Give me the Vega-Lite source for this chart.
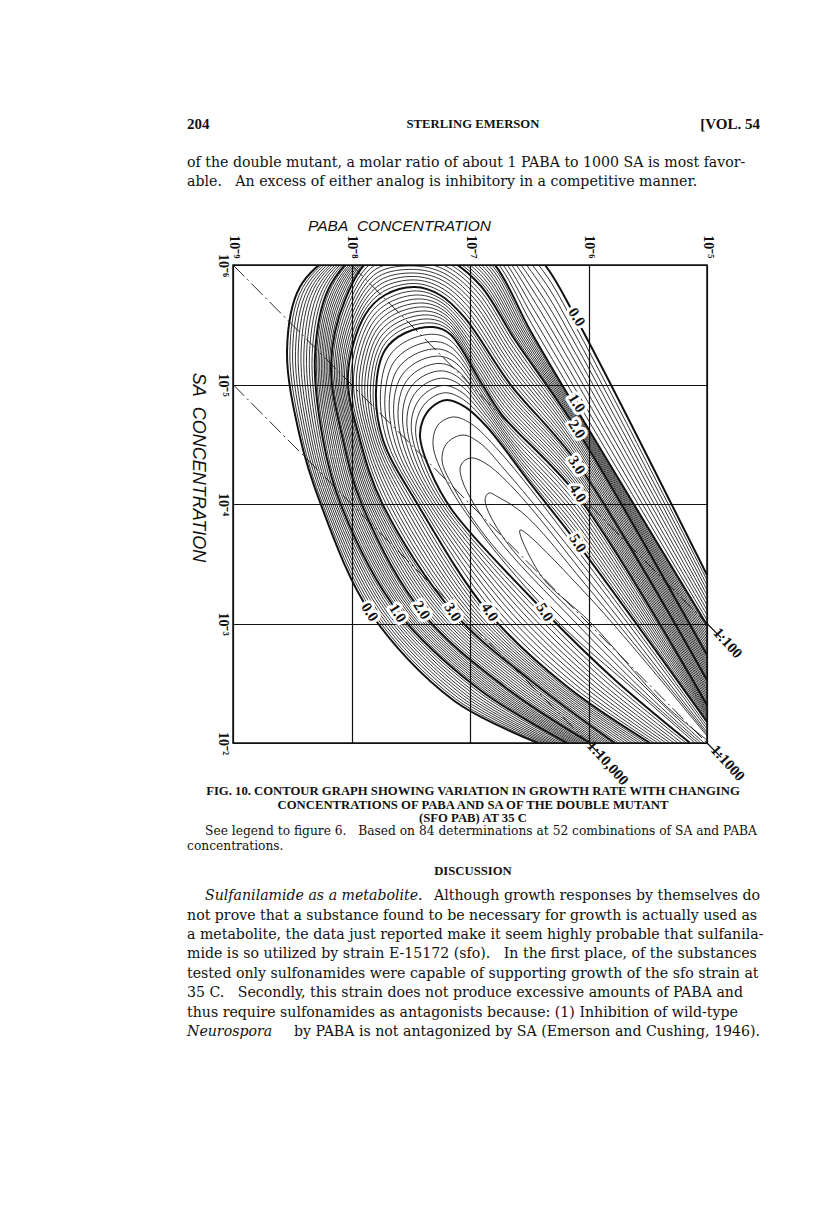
{"$schema":"https://vega.github.io/schema/vega-lite/v6.json","width":474,"height":478,"autosize":{"type":"none"},"padding":{"left":233,"top":265,"right":109,"bottom":475},"background":"white","config":{"view":{"stroke":"#111","strokeWidth":1.5}},
"datasets":{"contours":[
{"lv":0,"paba":-5,"sa":-3.406},{"lv":0,"paba":-6.097,"sa":-5.54},{"lv":0,"paba":-6.367,"sa":-6},{"lv":0,"paba":-6.705,"sa":-6.335},{"lv":0,"paba":-7,"sa":-6.502},{"lv":0,"paba":-7.38,"sa":-6.586},{"lv":0,"paba":-8.055,"sa":-6.167},{"lv":0,"paba":-8.435,"sa":-5.816},{"lv":0,"paba":-8.544,"sa":-5.289},{"lv":0,"paba":-8.435,"sa":-4.561},{"lv":0,"paba":-8.257,"sa":-3.992},{"lv":0,"paba":-7.844,"sa":-3.096},{"lv":0,"paba":-7.143,"sa":-2.36},{"lv":0,"paba":-6.426,"sa":-2},
{"lv":0.1,"paba":-5,"sa":-3.364},{"lv":0.1,"paba":-6.097,"sa":-5.465},{"lv":0.1,"paba":-6.38,"sa":-5.946},{"lv":0.1,"paba":-6.713,"sa":-6.302},{"lv":0.1,"paba":-7.008,"sa":-6.477},{"lv":0.1,"paba":-7.384,"sa":-6.569},{"lv":0.1,"paba":-8.047,"sa":-6.159},{"lv":0.1,"paba":-8.411,"sa":-5.813},{"lv":0.1,"paba":-8.52,"sa":-5.285},{"lv":0.1,"paba":-8.416,"sa":-4.558},{"lv":0.1,"paba":-8.24,"sa":-3.992},{"lv":0.1,"paba":-7.82,"sa":-3.096},{"lv":0.1,"paba":-7.12,"sa":-2.368},{"lv":0.1,"paba":-6.402,"sa":-2},
{"lv":0.2,"paba":-5,"sa":-3.322},{"lv":0.2,"paba":-6.097,"sa":-5.389},{"lv":0.2,"paba":-6.392,"sa":-5.891},{"lv":0.2,"paba":-6.722,"sa":-6.268},{"lv":0.2,"paba":-7.017,"sa":-6.452},{"lv":0.2,"paba":-7.388,"sa":-6.552},{"lv":0.2,"paba":-8.038,"sa":-6.15},{"lv":0.2,"paba":-8.388,"sa":-5.811},{"lv":0.2,"paba":-8.497,"sa":-5.281},{"lv":0.2,"paba":-8.396,"sa":-4.556},{"lv":0.2,"paba":-8.223,"sa":-3.992},{"lv":0.2,"paba":-7.797,"sa":-3.096},{"lv":0.2,"paba":-7.098,"sa":-2.377},{"lv":0.2,"paba":-6.377,"sa":-2},
{"lv":0.3,"paba":-5,"sa":-3.281},{"lv":0.3,"paba":-6.097,"sa":-5.314},{"lv":0.3,"paba":-6.405,"sa":-5.837},{"lv":0.3,"paba":-6.73,"sa":-6.235},{"lv":0.3,"paba":-7.025,"sa":-6.427},{"lv":0.3,"paba":-7.393,"sa":-6.536},{"lv":0.3,"paba":-8.03,"sa":-6.142},{"lv":0.3,"paba":-8.364,"sa":-5.808},{"lv":0.3,"paba":-8.473,"sa":-5.276},{"lv":0.3,"paba":-8.377,"sa":-4.554},{"lv":0.3,"paba":-8.207,"sa":-3.992},{"lv":0.3,"paba":-7.773,"sa":-3.096},{"lv":0.3,"paba":-7.075,"sa":-2.385},{"lv":0.3,"paba":-6.353,"sa":-2},
{"lv":0.4,"paba":-5,"sa":-3.239},{"lv":0.4,"paba":-6.097,"sa":-5.239},{"lv":0.4,"paba":-6.418,"sa":-5.782},{"lv":0.4,"paba":-6.739,"sa":-6.201},{"lv":0.4,"paba":-7.034,"sa":-6.402},{"lv":0.4,"paba":-7.397,"sa":-6.519},{"lv":0.4,"paba":-8.021,"sa":-6.134},{"lv":0.4,"paba":-8.34,"sa":-5.806},{"lv":0.4,"paba":-8.45,"sa":-5.272},{"lv":0.4,"paba":-8.357,"sa":-4.551},{"lv":0.4,"paba":-8.19,"sa":-3.992},{"lv":0.4,"paba":-7.75,"sa":-3.096},{"lv":0.4,"paba":-7.052,"sa":-2.394},{"lv":0.4,"paba":-6.328,"sa":-2},
{"lv":0.5,"paba":-5,"sa":-3.197},{"lv":0.5,"paba":-6.097,"sa":-5.164},{"lv":0.5,"paba":-6.43,"sa":-5.728},{"lv":0.5,"paba":-6.747,"sa":-6.168},{"lv":0.5,"paba":-7.042,"sa":-6.377},{"lv":0.5,"paba":-7.401,"sa":-6.502},{"lv":0.5,"paba":-8.013,"sa":-6.126},{"lv":0.5,"paba":-8.317,"sa":-5.804},{"lv":0.5,"paba":-8.426,"sa":-5.268},{"lv":0.5,"paba":-8.338,"sa":-4.549},{"lv":0.5,"paba":-8.173,"sa":-3.992},{"lv":0.5,"paba":-7.726,"sa":-3.096},{"lv":0.5,"paba":-7.03,"sa":-2.402},{"lv":0.5,"paba":-6.304,"sa":-2},
{"lv":0.6,"paba":-5,"sa":-3.155},{"lv":0.6,"paba":-6.097,"sa":-5.088},{"lv":0.6,"paba":-6.443,"sa":-5.674},{"lv":0.6,"paba":-6.755,"sa":-6.134},{"lv":0.6,"paba":-7.05,"sa":-6.351},{"lv":0.6,"paba":-7.405,"sa":-6.485},{"lv":0.6,"paba":-8.004,"sa":-6.117},{"lv":0.6,"paba":-8.293,"sa":-5.801},{"lv":0.6,"paba":-8.402,"sa":-5.264},{"lv":0.6,"paba":-8.318,"sa":-4.546},{"lv":0.6,"paba":-8.156,"sa":-3.992},{"lv":0.6,"paba":-7.702,"sa":-3.096},{"lv":0.6,"paba":-7.007,"sa":-2.41},{"lv":0.6,"paba":-6.279,"sa":-2},
{"lv":0.7,"paba":-5,"sa":-3.113},{"lv":0.7,"paba":-6.097,"sa":-5.013},{"lv":0.7,"paba":-6.456,"sa":-5.619},{"lv":0.7,"paba":-6.764,"sa":-6.101},{"lv":0.7,"paba":-7.059,"sa":-6.326},{"lv":0.7,"paba":-7.409,"sa":-6.468},{"lv":0.7,"paba":-7.996,"sa":-6.109},{"lv":0.7,"paba":-8.269,"sa":-5.799},{"lv":0.7,"paba":-8.379,"sa":-5.26},{"lv":0.7,"paba":-8.299,"sa":-4.544},{"lv":0.7,"paba":-8.139,"sa":-3.992},{"lv":0.7,"paba":-7.679,"sa":-3.096},{"lv":0.7,"paba":-6.984,"sa":-2.419},{"lv":0.7,"paba":-6.255,"sa":-2},
{"lv":0.8,"paba":-5,"sa":-3.072},{"lv":0.8,"paba":-6.097,"sa":-4.938},{"lv":0.8,"paba":-6.469,"sa":-5.565},{"lv":0.8,"paba":-6.772,"sa":-6.067},{"lv":0.8,"paba":-7.067,"sa":-6.301},{"lv":0.8,"paba":-7.414,"sa":-6.452},{"lv":0.8,"paba":-7.987,"sa":-6.101},{"lv":0.8,"paba":-8.245,"sa":-5.796},{"lv":0.8,"paba":-8.355,"sa":-5.255},{"lv":0.8,"paba":-8.279,"sa":-4.541},{"lv":0.8,"paba":-8.123,"sa":-3.992},{"lv":0.8,"paba":-7.655,"sa":-3.096},{"lv":0.8,"paba":-6.962,"sa":-2.427},{"lv":0.8,"paba":-6.23,"sa":-2},
{"lv":0.9,"paba":-5,"sa":-3.03},{"lv":0.9,"paba":-6.097,"sa":-4.862},{"lv":0.9,"paba":-6.481,"sa":-5.51},{"lv":0.9,"paba":-6.781,"sa":-6.034},{"lv":0.9,"paba":-7.076,"sa":-6.276},{"lv":0.9,"paba":-7.418,"sa":-6.435},{"lv":0.9,"paba":-7.979,"sa":-6.092},{"lv":0.9,"paba":-8.222,"sa":-5.794},{"lv":0.9,"paba":-8.332,"sa":-5.251},{"lv":0.9,"paba":-8.26,"sa":-4.539},{"lv":0.9,"paba":-8.106,"sa":-3.992},{"lv":0.9,"paba":-7.632,"sa":-3.096},{"lv":0.9,"paba":-6.939,"sa":-2.436},{"lv":0.9,"paba":-6.206,"sa":-2},
{"lv":1,"paba":-5,"sa":-2.988},{"lv":1,"paba":-6.097,"sa":-4.787},{"lv":1,"paba":-6.494,"sa":-5.456},{"lv":1,"paba":-6.789,"sa":-6},{"lv":1,"paba":-7.084,"sa":-6.251},{"lv":1,"paba":-7.422,"sa":-6.418},{"lv":1,"paba":-7.97,"sa":-6.084},{"lv":1,"paba":-8.198,"sa":-5.791},{"lv":1,"paba":-8.308,"sa":-5.247},{"lv":1,"paba":-8.24,"sa":-4.536},{"lv":1,"paba":-8.089,"sa":-3.992},{"lv":1,"paba":-7.608,"sa":-3.096},{"lv":1,"paba":-6.916,"sa":-2.444},{"lv":1,"paba":-6.181,"sa":-2},
{"lv":1.1,"paba":-5,"sa":-2.963},{"lv":1.1,"paba":-6.097,"sa":-4.77},{"lv":1.1,"paba":-6.507,"sa":-5.448},{"lv":1.1,"paba":-6.802,"sa":-5.983},{"lv":1.1,"paba":-7.097,"sa":-6.232},{"lv":1.1,"paba":-7.429,"sa":-6.387},{"lv":1.1,"paba":-7.956,"sa":-6.082},{"lv":1.1,"paba":-8.184,"sa":-5.783},{"lv":1.1,"paba":-8.295,"sa":-5.239},{"lv":1.1,"paba":-8.223,"sa":-4.536},{"lv":1.1,"paba":-8.071,"sa":-3.992},{"lv":1.1,"paba":-7.588,"sa":-3.096},{"lv":1.1,"paba":-6.895,"sa":-2.447},{"lv":1.1,"paba":-6.162,"sa":-2},
{"lv":1.2,"paba":-5,"sa":-2.938},{"lv":1.2,"paba":-6.097,"sa":-4.753},{"lv":1.2,"paba":-6.519,"sa":-5.439},{"lv":1.2,"paba":-6.814,"sa":-5.967},{"lv":1.2,"paba":-7.109,"sa":-6.213},{"lv":1.2,"paba":-7.435,"sa":-6.356},{"lv":1.2,"paba":-7.941,"sa":-6.079},{"lv":1.2,"paba":-8.169,"sa":-5.774},{"lv":1.2,"paba":-8.281,"sa":-5.23},{"lv":1.2,"paba":-8.206,"sa":-4.536},{"lv":1.2,"paba":-8.053,"sa":-3.992},{"lv":1.2,"paba":-7.567,"sa":-3.096},{"lv":1.2,"paba":-6.874,"sa":-2.449},{"lv":1.2,"paba":-6.142,"sa":-2},
{"lv":1.3,"paba":-5,"sa":-2.912},{"lv":1.3,"paba":-6.097,"sa":-4.737},{"lv":1.3,"paba":-6.532,"sa":-5.431},{"lv":1.3,"paba":-6.827,"sa":-5.95},{"lv":1.3,"paba":-7.122,"sa":-6.193},{"lv":1.3,"paba":-7.442,"sa":-6.325},{"lv":1.3,"paba":-7.927,"sa":-6.077},{"lv":1.3,"paba":-8.155,"sa":-5.766},{"lv":1.3,"paba":-8.268,"sa":-5.222},{"lv":1.3,"paba":-8.19,"sa":-4.536},{"lv":1.3,"paba":-8.036,"sa":-3.992},{"lv":1.3,"paba":-7.547,"sa":-3.096},{"lv":1.3,"paba":-6.853,"sa":-2.452},{"lv":1.3,"paba":-6.123,"sa":-2},
{"lv":1.4,"paba":-5,"sa":-2.887},{"lv":1.4,"paba":-6.097,"sa":-4.72},{"lv":1.4,"paba":-6.544,"sa":-5.422},{"lv":1.4,"paba":-6.84,"sa":-5.933},{"lv":1.4,"paba":-7.135,"sa":-6.174},{"lv":1.4,"paba":-7.449,"sa":-6.294},{"lv":1.4,"paba":-7.913,"sa":-6.074},{"lv":1.4,"paba":-8.141,"sa":-5.757},{"lv":1.4,"paba":-8.254,"sa":-5.213},{"lv":1.4,"paba":-8.173,"sa":-4.536},{"lv":1.4,"paba":-8.018,"sa":-3.992},{"lv":1.4,"paba":-7.527,"sa":-3.096},{"lv":1.4,"paba":-6.832,"sa":-2.454},{"lv":1.4,"paba":-6.103,"sa":-2},
{"lv":1.5,"paba":-5,"sa":-2.862},{"lv":1.5,"paba":-6.097,"sa":-4.703},{"lv":1.5,"paba":-6.557,"sa":-5.414},{"lv":1.5,"paba":-6.853,"sa":-5.917},{"lv":1.5,"paba":-7.148,"sa":-6.155},{"lv":1.5,"paba":-7.456,"sa":-6.264},{"lv":1.5,"paba":-7.899,"sa":-6.072},{"lv":1.5,"paba":-8.127,"sa":-5.749},{"lv":1.5,"paba":-8.241,"sa":-5.205},{"lv":1.5,"paba":-8.156,"sa":-4.536},{"lv":1.5,"paba":-8,"sa":-3.992},{"lv":1.5,"paba":-7.507,"sa":-3.096},{"lv":1.5,"paba":-6.811,"sa":-2.457},{"lv":1.5,"paba":-6.084,"sa":-2},
{"lv":1.6,"paba":-5,"sa":-2.837},{"lv":1.6,"paba":-6.097,"sa":-4.686},{"lv":1.6,"paba":-6.57,"sa":-5.406},{"lv":1.6,"paba":-6.865,"sa":-5.9},{"lv":1.6,"paba":-7.16,"sa":-6.136},{"lv":1.6,"paba":-7.462,"sa":-6.233},{"lv":1.6,"paba":-7.884,"sa":-6.07},{"lv":1.6,"paba":-8.112,"sa":-5.741},{"lv":1.6,"paba":-8.227,"sa":-5.197},{"lv":1.6,"paba":-8.139,"sa":-4.536},{"lv":1.6,"paba":-7.982,"sa":-3.992},{"lv":1.6,"paba":-7.486,"sa":-3.096},{"lv":1.6,"paba":-6.789,"sa":-2.459},{"lv":1.6,"paba":-6.065,"sa":-2},
{"lv":1.7,"paba":-5,"sa":-2.812},{"lv":1.7,"paba":-6.097,"sa":-4.669},{"lv":1.7,"paba":-6.582,"sa":-5.397},{"lv":1.7,"paba":-6.878,"sa":-5.883},{"lv":1.7,"paba":-7.173,"sa":-6.117},{"lv":1.7,"paba":-7.469,"sa":-6.202},{"lv":1.7,"paba":-7.87,"sa":-6.067},{"lv":1.7,"paba":-8.098,"sa":-5.732},{"lv":1.7,"paba":-8.214,"sa":-5.188},{"lv":1.7,"paba":-8.122,"sa":-4.536},{"lv":1.7,"paba":-7.964,"sa":-3.992},{"lv":1.7,"paba":-7.466,"sa":-3.096},{"lv":1.7,"paba":-6.768,"sa":-2.462},{"lv":1.7,"paba":-6.045,"sa":-2},
{"lv":1.8,"paba":-5,"sa":-2.786},{"lv":1.8,"paba":-6.097,"sa":-4.653},{"lv":1.8,"paba":-6.595,"sa":-5.389},{"lv":1.8,"paba":-6.891,"sa":-5.866},{"lv":1.8,"paba":-7.186,"sa":-6.097},{"lv":1.8,"paba":-7.476,"sa":-6.171},{"lv":1.8,"paba":-7.856,"sa":-6.064},{"lv":1.8,"paba":-8.084,"sa":-5.724},{"lv":1.8,"paba":-8.2,"sa":-5.18},{"lv":1.8,"paba":-8.106,"sa":-4.536},{"lv":1.8,"paba":-7.947,"sa":-3.992},{"lv":1.8,"paba":-7.446,"sa":-3.096},{"lv":1.8,"paba":-6.747,"sa":-2.464},{"lv":1.8,"paba":-6.026,"sa":-2},
{"lv":1.9,"paba":-5,"sa":-2.761},{"lv":1.9,"paba":-6.097,"sa":-4.636},{"lv":1.9,"paba":-6.607,"sa":-5.38},{"lv":1.9,"paba":-6.903,"sa":-5.85},{"lv":1.9,"paba":-7.198,"sa":-6.078},{"lv":1.9,"paba":-7.482,"sa":-6.14},{"lv":1.9,"paba":-7.841,"sa":-6.062},{"lv":1.9,"paba":-8.069,"sa":-5.715},{"lv":1.9,"paba":-8.187,"sa":-5.171},{"lv":1.9,"paba":-8.089,"sa":-4.536},{"lv":1.9,"paba":-7.929,"sa":-3.992},{"lv":1.9,"paba":-7.425,"sa":-3.096},{"lv":1.9,"paba":-6.726,"sa":-2.467},{"lv":1.9,"paba":-6.006,"sa":-2},
{"lv":2,"paba":-5,"sa":-2.736},{"lv":2,"paba":-6.097,"sa":-4.619},{"lv":2,"paba":-6.62,"sa":-5.372},{"lv":2,"paba":-6.916,"sa":-5.833},{"lv":2,"paba":-7.211,"sa":-6.059},{"lv":2,"paba":-7.489,"sa":-6.109},{"lv":2,"paba":-7.827,"sa":-6.059},{"lv":2,"paba":-8.055,"sa":-5.707},{"lv":2,"paba":-8.173,"sa":-5.163},{"lv":2,"paba":-8.072,"sa":-4.536},{"lv":2,"paba":-7.911,"sa":-3.992},{"lv":2,"paba":-7.405,"sa":-3.096},{"lv":2,"paba":-6.705,"sa":-2.469},{"lv":2,"paba":-5.987,"sa":-2},
{"lv":2.1,"paba":-5,"sa":-2.715},{"lv":2.1,"paba":-6.097,"sa":-4.591},{"lv":2.1,"paba":-6.624,"sa":-5.335},{"lv":2.1,"paba":-6.929,"sa":-5.805},{"lv":2.1,"paba":-7.215,"sa":-6.028},{"lv":2.1,"paba":-7.486,"sa":-6.08},{"lv":2.1,"paba":-7.816,"sa":-6.028},{"lv":2.1,"paba":-8.038,"sa":-5.694},{"lv":2.1,"paba":-8.159,"sa":-5.155},{"lv":2.1,"paba":-8.058,"sa":-4.536},{"lv":2.1,"paba":-7.893,"sa":-3.992},{"lv":2.1,"paba":-7.379,"sa":-3.096},{"lv":2.1,"paba":-6.684,"sa":-2.475},{"lv":2.1,"paba":-5.966,"sa":-2},
{"lv":2.2,"paba":-5,"sa":-2.694},{"lv":2.2,"paba":-6.097,"sa":-4.564},{"lv":2.2,"paba":-6.628,"sa":-5.298},{"lv":2.2,"paba":-6.941,"sa":-5.778},{"lv":2.2,"paba":-7.219,"sa":-5.997},{"lv":2.2,"paba":-7.484,"sa":-6.05},{"lv":2.2,"paba":-7.805,"sa":-5.997},{"lv":2.2,"paba":-8.021,"sa":-5.682},{"lv":2.2,"paba":-8.144,"sa":-5.146},{"lv":2.2,"paba":-8.043,"sa":-4.536},{"lv":2.2,"paba":-7.876,"sa":-3.992},{"lv":2.2,"paba":-7.353,"sa":-3.096},{"lv":2.2,"paba":-6.663,"sa":-2.481},{"lv":2.2,"paba":-5.945,"sa":-2},
{"lv":2.3,"paba":-5,"sa":-2.673},{"lv":2.3,"paba":-6.097,"sa":-4.536},{"lv":2.3,"paba":-6.633,"sa":-5.262},{"lv":2.3,"paba":-6.954,"sa":-5.75},{"lv":2.3,"paba":-7.224,"sa":-5.966},{"lv":2.3,"paba":-7.481,"sa":-6.021},{"lv":2.3,"paba":-7.794,"sa":-5.966},{"lv":2.3,"paba":-8.004,"sa":-5.669},{"lv":2.3,"paba":-8.13,"sa":-5.138},{"lv":2.3,"paba":-8.029,"sa":-4.536},{"lv":2.3,"paba":-7.858,"sa":-3.992},{"lv":2.3,"paba":-7.326,"sa":-3.096},{"lv":2.3,"paba":-6.642,"sa":-2.486},{"lv":2.3,"paba":-5.924,"sa":-2},
{"lv":2.4,"paba":-5,"sa":-2.652},{"lv":2.4,"paba":-6.097,"sa":-4.509},{"lv":2.4,"paba":-6.637,"sa":-5.225},{"lv":2.4,"paba":-6.966,"sa":-5.722},{"lv":2.4,"paba":-7.228,"sa":-5.935},{"lv":2.4,"paba":-7.479,"sa":-5.992},{"lv":2.4,"paba":-7.783,"sa":-5.935},{"lv":2.4,"paba":-7.987,"sa":-5.657},{"lv":2.4,"paba":-8.116,"sa":-5.13},{"lv":2.4,"paba":-8.014,"sa":-4.536},{"lv":2.4,"paba":-7.84,"sa":-3.992},{"lv":2.4,"paba":-7.3,"sa":-3.096},{"lv":2.4,"paba":-6.621,"sa":-2.492},{"lv":2.4,"paba":-5.903,"sa":-2},
{"lv":2.5,"paba":-5,"sa":-2.632},{"lv":2.5,"paba":-6.097,"sa":-4.481},{"lv":2.5,"paba":-6.641,"sa":-5.188},{"lv":2.5,"paba":-6.979,"sa":-5.695},{"lv":2.5,"paba":-7.232,"sa":-5.904},{"lv":2.5,"paba":-7.477,"sa":-5.963},{"lv":2.5,"paba":-7.772,"sa":-5.904},{"lv":2.5,"paba":-7.971,"sa":-5.645},{"lv":2.5,"paba":-8.102,"sa":-5.122},{"lv":2.5,"paba":-8,"sa":-4.536},{"lv":2.5,"paba":-7.823,"sa":-3.992},{"lv":2.5,"paba":-7.274,"sa":-3.096},{"lv":2.5,"paba":-6.6,"sa":-2.498},{"lv":2.5,"paba":-5.882,"sa":-2},
{"lv":2.6,"paba":-5,"sa":-2.611},{"lv":2.6,"paba":-6.097,"sa":-4.453},{"lv":2.6,"paba":-6.645,"sa":-5.151},{"lv":2.6,"paba":-6.992,"sa":-5.667},{"lv":2.6,"paba":-7.236,"sa":-5.873},{"lv":2.6,"paba":-7.474,"sa":-5.933},{"lv":2.6,"paba":-7.761,"sa":-5.873},{"lv":2.6,"paba":-7.954,"sa":-5.632},{"lv":2.6,"paba":-8.087,"sa":-5.113},{"lv":2.6,"paba":-7.986,"sa":-4.536},{"lv":2.6,"paba":-7.805,"sa":-3.992},{"lv":2.6,"paba":-7.248,"sa":-3.096},{"lv":2.6,"paba":-6.578,"sa":-2.504},{"lv":2.6,"paba":-5.86,"sa":-2},
{"lv":2.7,"paba":-5,"sa":-2.59},{"lv":2.7,"paba":-6.097,"sa":-4.426},{"lv":2.7,"paba":-6.649,"sa":-5.114},{"lv":2.7,"paba":-7.004,"sa":-5.639},{"lv":2.7,"paba":-7.24,"sa":-5.842},{"lv":2.7,"paba":-7.472,"sa":-5.904},{"lv":2.7,"paba":-7.75,"sa":-5.842},{"lv":2.7,"paba":-7.937,"sa":-5.62},{"lv":2.7,"paba":-8.073,"sa":-5.105},{"lv":2.7,"paba":-7.971,"sa":-4.536},{"lv":2.7,"paba":-7.787,"sa":-3.992},{"lv":2.7,"paba":-7.222,"sa":-3.096},{"lv":2.7,"paba":-6.557,"sa":-2.51},{"lv":2.7,"paba":-5.839,"sa":-2},
{"lv":2.8,"paba":-5,"sa":-2.569},{"lv":2.8,"paba":-6.097,"sa":-4.398},{"lv":2.8,"paba":-6.654,"sa":-5.078},{"lv":2.8,"paba":-7.017,"sa":-5.611},{"lv":2.8,"paba":-7.245,"sa":-5.811},{"lv":2.8,"paba":-7.469,"sa":-5.875},{"lv":2.8,"paba":-7.739,"sa":-5.811},{"lv":2.8,"paba":-7.92,"sa":-5.607},{"lv":2.8,"paba":-8.059,"sa":-5.097},{"lv":2.8,"paba":-7.957,"sa":-4.536},{"lv":2.8,"paba":-7.769,"sa":-3.992},{"lv":2.8,"paba":-7.195,"sa":-3.096},{"lv":2.8,"paba":-6.536,"sa":-2.515},{"lv":2.8,"paba":-5.818,"sa":-2},
{"lv":2.9,"paba":-5,"sa":-2.548},{"lv":2.9,"paba":-6.097,"sa":-4.371},{"lv":2.9,"paba":-6.658,"sa":-5.041},{"lv":2.9,"paba":-7.029,"sa":-5.584},{"lv":2.9,"paba":-7.249,"sa":-5.78},{"lv":2.9,"paba":-7.467,"sa":-5.845},{"lv":2.9,"paba":-7.728,"sa":-5.78},{"lv":2.9,"paba":-7.903,"sa":-5.595},{"lv":2.9,"paba":-8.044,"sa":-5.088},{"lv":2.9,"paba":-7.942,"sa":-4.536},{"lv":2.9,"paba":-7.752,"sa":-3.992},{"lv":2.9,"paba":-7.169,"sa":-3.096},{"lv":2.9,"paba":-6.515,"sa":-2.521},{"lv":2.9,"paba":-5.797,"sa":-2},
{"lv":3,"paba":-5,"sa":-2.527},{"lv":3,"paba":-6.097,"sa":-4.343},{"lv":3,"paba":-6.662,"sa":-5.004},{"lv":3,"paba":-7.042,"sa":-5.556},{"lv":3,"paba":-7.253,"sa":-5.749},{"lv":3,"paba":-7.464,"sa":-5.816},{"lv":3,"paba":-7.717,"sa":-5.749},{"lv":3,"paba":-7.886,"sa":-5.582},{"lv":3,"paba":-8.03,"sa":-5.08},{"lv":3,"paba":-7.928,"sa":-4.536},{"lv":3,"paba":-7.734,"sa":-3.992},{"lv":3,"paba":-7.143,"sa":-3.096},{"lv":3,"paba":-6.494,"sa":-2.527},{"lv":3,"paba":-5.776,"sa":-2},
{"lv":3.1,"paba":-5,"sa":-2.506},{"lv":3.1,"paba":-6.097,"sa":-4.316},{"lv":3.1,"paba":-6.669,"sa":-4.978},{"lv":3.1,"paba":-7.028,"sa":-5.501},{"lv":3.1,"paba":-7.245,"sa":-5.716},{"lv":3.1,"paba":-7.449,"sa":-5.783},{"lv":3.1,"paba":-7.7,"sa":-5.717},{"lv":3.1,"paba":-7.869,"sa":-5.553},{"lv":3.1,"paba":-8.006,"sa":-5.067},{"lv":3.1,"paba":-7.909,"sa":-4.536},{"lv":3.1,"paba":-7.704,"sa":-3.992},{"lv":3.1,"paba":-7.114,"sa":-3.096},{"lv":3.1,"paba":-6.464,"sa":-2.523},{"lv":3.1,"paba":-5.747,"sa":-2},
{"lv":3.2,"paba":-5,"sa":-2.485},{"lv":3.2,"paba":-6.097,"sa":-4.289},{"lv":3.2,"paba":-6.676,"sa":-4.952},{"lv":3.2,"paba":-7.013,"sa":-5.446},{"lv":3.2,"paba":-7.236,"sa":-5.684},{"lv":3.2,"paba":-7.434,"sa":-5.749},{"lv":3.2,"paba":-7.683,"sa":-5.685},{"lv":3.2,"paba":-7.852,"sa":-5.523},{"lv":3.2,"paba":-7.983,"sa":-5.055},{"lv":3.2,"paba":-7.889,"sa":-4.536},{"lv":3.2,"paba":-7.675,"sa":-3.992},{"lv":3.2,"paba":-7.084,"sa":-3.096},{"lv":3.2,"paba":-6.435,"sa":-2.519},{"lv":3.2,"paba":-5.717,"sa":-2},
{"lv":3.3,"paba":-5,"sa":-2.464},{"lv":3.3,"paba":-6.097,"sa":-4.263},{"lv":3.3,"paba":-6.682,"sa":-4.926},{"lv":3.3,"paba":-6.999,"sa":-5.39},{"lv":3.3,"paba":-7.228,"sa":-5.651},{"lv":3.3,"paba":-7.418,"sa":-5.716},{"lv":3.3,"paba":-7.666,"sa":-5.654},{"lv":3.3,"paba":-7.835,"sa":-5.494},{"lv":3.3,"paba":-7.959,"sa":-5.042},{"lv":3.3,"paba":-7.87,"sa":-4.536},{"lv":3.3,"paba":-7.646,"sa":-3.992},{"lv":3.3,"paba":-7.055,"sa":-3.096},{"lv":3.3,"paba":-6.405,"sa":-2.514},{"lv":3.3,"paba":-5.688,"sa":-2},
{"lv":3.4,"paba":-5,"sa":-2.443},{"lv":3.4,"paba":-6.097,"sa":-4.236},{"lv":3.4,"paba":-6.689,"sa":-4.9},{"lv":3.4,"paba":-6.985,"sa":-5.335},{"lv":3.4,"paba":-7.219,"sa":-5.619},{"lv":3.4,"paba":-7.403,"sa":-5.682},{"lv":3.4,"paba":-7.649,"sa":-5.622},{"lv":3.4,"paba":-7.818,"sa":-5.465},{"lv":3.4,"paba":-7.935,"sa":-5.03},{"lv":3.4,"paba":-7.85,"sa":-4.536},{"lv":3.4,"paba":-7.616,"sa":-3.992},{"lv":3.4,"paba":-7.025,"sa":-3.096},{"lv":3.4,"paba":-6.376,"sa":-2.51},{"lv":3.4,"paba":-5.658,"sa":-2},
{"lv":3.5,"paba":-5,"sa":-2.423},{"lv":3.5,"paba":-6.097,"sa":-4.209},{"lv":3.5,"paba":-6.696,"sa":-4.875},{"lv":3.5,"paba":-6.971,"sa":-5.28},{"lv":3.5,"paba":-7.211,"sa":-5.586},{"lv":3.5,"paba":-7.388,"sa":-5.649},{"lv":3.5,"paba":-7.633,"sa":-5.59},{"lv":3.5,"paba":-7.802,"sa":-5.436},{"lv":3.5,"paba":-7.912,"sa":-5.017},{"lv":3.5,"paba":-7.831,"sa":-4.536},{"lv":3.5,"paba":-7.587,"sa":-3.992},{"lv":3.5,"paba":-6.996,"sa":-3.096},{"lv":3.5,"paba":-6.346,"sa":-2.506},{"lv":3.5,"paba":-5.629,"sa":-2},
{"lv":3.6,"paba":-5,"sa":-2.402},{"lv":3.6,"paba":-6.097,"sa":-4.182},{"lv":3.6,"paba":-6.703,"sa":-4.849},{"lv":3.6,"paba":-6.956,"sa":-5.225},{"lv":3.6,"paba":-7.203,"sa":-5.553},{"lv":3.6,"paba":-7.373,"sa":-5.615},{"lv":3.6,"paba":-7.616,"sa":-5.558},{"lv":3.6,"paba":-7.785,"sa":-5.406},{"lv":3.6,"paba":-7.888,"sa":-5.004},{"lv":3.6,"paba":-7.812,"sa":-4.536},{"lv":3.6,"paba":-7.557,"sa":-3.992},{"lv":3.6,"paba":-6.966,"sa":-3.096},{"lv":3.6,"paba":-6.316,"sa":-2.502},{"lv":3.6,"paba":-5.599,"sa":-2},
{"lv":3.7,"paba":-5,"sa":-2.381},{"lv":3.7,"paba":-6.097,"sa":-4.155},{"lv":3.7,"paba":-6.71,"sa":-4.823},{"lv":3.7,"paba":-6.942,"sa":-5.17},{"lv":3.7,"paba":-7.194,"sa":-5.521},{"lv":3.7,"paba":-7.357,"sa":-5.582},{"lv":3.7,"paba":-7.599,"sa":-5.526},{"lv":3.7,"paba":-7.768,"sa":-5.377},{"lv":3.7,"paba":-7.864,"sa":-4.992},{"lv":3.7,"paba":-7.792,"sa":-4.536},{"lv":3.7,"paba":-7.528,"sa":-3.992},{"lv":3.7,"paba":-6.937,"sa":-3.096},{"lv":3.7,"paba":-6.287,"sa":-2.497},{"lv":3.7,"paba":-5.57,"sa":-2},
{"lv":3.8,"paba":-5,"sa":-2.36},{"lv":3.8,"paba":-6.097,"sa":-4.129},{"lv":3.8,"paba":-6.716,"sa":-4.797},{"lv":3.8,"paba":-6.928,"sa":-5.114},{"lv":3.8,"paba":-7.186,"sa":-5.488},{"lv":3.8,"paba":-7.342,"sa":-5.548},{"lv":3.8,"paba":-7.582,"sa":-5.495},{"lv":3.8,"paba":-7.751,"sa":-5.348},{"lv":3.8,"paba":-7.84,"sa":-4.979},{"lv":3.8,"paba":-7.773,"sa":-4.536},{"lv":3.8,"paba":-7.498,"sa":-3.992},{"lv":3.8,"paba":-6.907,"sa":-3.096},{"lv":3.8,"paba":-6.257,"sa":-2.493},{"lv":3.8,"paba":-5.54,"sa":-2},
{"lv":3.9,"paba":-5,"sa":-2.339},{"lv":3.9,"paba":-6.097,"sa":-4.102},{"lv":3.9,"paba":-6.723,"sa":-4.771},{"lv":3.9,"paba":-6.913,"sa":-5.059},{"lv":3.9,"paba":-7.177,"sa":-5.456},{"lv":3.9,"paba":-7.327,"sa":-5.515},{"lv":3.9,"paba":-7.565,"sa":-5.463},{"lv":3.9,"paba":-7.734,"sa":-5.318},{"lv":3.9,"paba":-7.817,"sa":-4.967},{"lv":3.9,"paba":-7.753,"sa":-4.536},{"lv":3.9,"paba":-7.469,"sa":-3.992},{"lv":3.9,"paba":-6.878,"sa":-3.096},{"lv":3.9,"paba":-6.228,"sa":-2.489},{"lv":3.9,"paba":-5.511,"sa":-2},
{"lv":4,"paba":-5,"sa":-2.318},{"lv":4,"paba":-6.097,"sa":-4.075},{"lv":4,"paba":-6.73,"sa":-4.745},{"lv":4,"paba":-6.899,"sa":-5.004},{"lv":4,"paba":-7.169,"sa":-5.423},{"lv":4,"paba":-7.312,"sa":-5.481},{"lv":4,"paba":-7.548,"sa":-5.431},{"lv":4,"paba":-7.717,"sa":-5.289},{"lv":4,"paba":-7.793,"sa":-4.954},{"lv":4,"paba":-7.734,"sa":-4.536},{"lv":4,"paba":-7.439,"sa":-3.992},{"lv":4,"paba":-6.848,"sa":-3.096},{"lv":4,"paba":-6.198,"sa":-2.485},{"lv":4,"paba":-5.481,"sa":-2},
{"lv":4.1,"paba":-5,"sa":-2.304},{"lv":4.1,"paba":-6.097,"sa":-4.035},{"lv":4.1,"paba":-6.706,"sa":-4.688},{"lv":4.1,"paba":-6.895,"sa":-4.968},{"lv":4.1,"paba":-7.156,"sa":-5.362},{"lv":4.1,"paba":-7.3,"sa":-5.42},{"lv":4.1,"paba":-7.525,"sa":-5.369},{"lv":4.1,"paba":-7.685,"sa":-5.23},{"lv":4.1,"paba":-7.756,"sa":-4.915},{"lv":4.1,"paba":-7.694,"sa":-4.511},{"lv":4.1,"paba":-7.41,"sa":-3.988},{"lv":4.1,"paba":-6.8,"sa":-3.096},{"lv":4.1,"paba":-6.156,"sa":-2.489},{"lv":4.1,"paba":-5.447,"sa":-2},
{"lv":4.2,"paba":-5,"sa":-2.29},{"lv":4.2,"paba":-6.097,"sa":-3.995},{"lv":4.2,"paba":-6.683,"sa":-4.631},{"lv":4.2,"paba":-6.89,"sa":-4.932},{"lv":4.2,"paba":-7.144,"sa":-5.301},{"lv":4.2,"paba":-7.288,"sa":-5.359},{"lv":4.2,"paba":-7.503,"sa":-5.307},{"lv":4.2,"paba":-7.653,"sa":-5.172},{"lv":4.2,"paba":-7.719,"sa":-4.875},{"lv":4.2,"paba":-7.655,"sa":-4.486},{"lv":4.2,"paba":-7.382,"sa":-3.984},{"lv":4.2,"paba":-6.752,"sa":-3.096},{"lv":4.2,"paba":-6.114,"sa":-2.493},{"lv":4.2,"paba":-5.413,"sa":-2},
{"lv":4.3,"paba":-5,"sa":-2.275},{"lv":4.3,"paba":-6.097,"sa":-3.955},{"lv":4.3,"paba":-6.659,"sa":-4.574},{"lv":4.3,"paba":-6.886,"sa":-4.896},{"lv":4.3,"paba":-7.131,"sa":-5.24},{"lv":4.3,"paba":-7.277,"sa":-5.298},{"lv":4.3,"paba":-7.48,"sa":-5.245},{"lv":4.3,"paba":-7.621,"sa":-5.113},{"lv":4.3,"paba":-7.682,"sa":-4.836},{"lv":4.3,"paba":-7.615,"sa":-4.461},{"lv":4.3,"paba":-7.353,"sa":-3.979},{"lv":4.3,"paba":-6.704,"sa":-3.096},{"lv":4.3,"paba":-6.071,"sa":-2.498},{"lv":4.3,"paba":-5.38,"sa":-2},
{"lv":4.4,"paba":-5,"sa":-2.261},{"lv":4.4,"paba":-6.097,"sa":-3.915},{"lv":4.4,"paba":-6.636,"sa":-4.517},{"lv":4.4,"paba":-6.882,"sa":-4.86},{"lv":4.4,"paba":-7.118,"sa":-5.179},{"lv":4.4,"paba":-7.265,"sa":-5.237},{"lv":4.4,"paba":-7.457,"sa":-5.183},{"lv":4.4,"paba":-7.589,"sa":-5.055},{"lv":4.4,"paba":-7.645,"sa":-4.797},{"lv":4.4,"paba":-7.576,"sa":-4.436},{"lv":4.4,"paba":-7.324,"sa":-3.975},{"lv":4.4,"paba":-6.656,"sa":-3.096},{"lv":4.4,"paba":-6.029,"sa":-2.502},{"lv":4.4,"paba":-5.346,"sa":-2},
{"lv":4.5,"paba":-5,"sa":-2.247},{"lv":4.5,"paba":-6.097,"sa":-3.875},{"lv":4.5,"paba":-6.612,"sa":-4.461},{"lv":4.5,"paba":-6.878,"sa":-4.824},{"lv":4.5,"paba":-7.106,"sa":-5.118},{"lv":4.5,"paba":-7.253,"sa":-5.176},{"lv":4.5,"paba":-7.435,"sa":-5.122},{"lv":4.5,"paba":-7.557,"sa":-4.996},{"lv":4.5,"paba":-7.608,"sa":-4.758},{"lv":4.5,"paba":-7.536,"sa":-4.411},{"lv":4.5,"paba":-7.296,"sa":-3.971},{"lv":4.5,"paba":-6.608,"sa":-3.096},{"lv":4.5,"paba":-5.987,"sa":-2.506},{"lv":4.5,"paba":-5.312,"sa":-2},
{"lv":4.6,"paba":-5,"sa":-2.233},{"lv":4.6,"paba":-6.097,"sa":-3.834},{"lv":4.6,"paba":-6.588,"sa":-4.404},{"lv":4.6,"paba":-6.873,"sa":-4.788},{"lv":4.6,"paba":-7.093,"sa":-5.056},{"lv":4.6,"paba":-7.241,"sa":-5.114},{"lv":4.6,"paba":-7.412,"sa":-5.06},{"lv":4.6,"paba":-7.525,"sa":-4.937},{"lv":4.6,"paba":-7.57,"sa":-4.718},{"lv":4.6,"paba":-7.496,"sa":-4.385},{"lv":4.6,"paba":-7.267,"sa":-3.967},{"lv":4.6,"paba":-6.559,"sa":-3.096},{"lv":4.6,"paba":-5.945,"sa":-2.51},{"lv":4.6,"paba":-5.278,"sa":-2},
{"lv":4.7,"paba":-5,"sa":-2.219},{"lv":4.7,"paba":-6.097,"sa":-3.794},{"lv":4.7,"paba":-6.565,"sa":-4.347},{"lv":4.7,"paba":-6.869,"sa":-4.752},{"lv":4.7,"paba":-7.08,"sa":-4.995},{"lv":4.7,"paba":-7.229,"sa":-5.053},{"lv":4.7,"paba":-7.389,"sa":-4.998},{"lv":4.7,"paba":-7.493,"sa":-4.879},{"lv":4.7,"paba":-7.533,"sa":-4.679},{"lv":4.7,"paba":-7.457,"sa":-4.36},{"lv":4.7,"paba":-7.238,"sa":-3.963},{"lv":4.7,"paba":-6.511,"sa":-3.096},{"lv":4.7,"paba":-5.903,"sa":-2.514},{"lv":4.7,"paba":-5.244,"sa":-2},
{"lv":4.8,"paba":-5,"sa":-2.204},{"lv":4.8,"paba":-6.097,"sa":-3.754},{"lv":4.8,"paba":-6.541,"sa":-4.29},{"lv":4.8,"paba":-6.865,"sa":-4.716},{"lv":4.8,"paba":-7.067,"sa":-4.934},{"lv":4.8,"paba":-7.218,"sa":-4.992},{"lv":4.8,"paba":-7.366,"sa":-4.936},{"lv":4.8,"paba":-7.461,"sa":-4.82},{"lv":4.8,"paba":-7.496,"sa":-4.64},{"lv":4.8,"paba":-7.417,"sa":-4.335},{"lv":4.8,"paba":-7.209,"sa":-3.958},{"lv":4.8,"paba":-6.463,"sa":-3.096},{"lv":4.8,"paba":-5.86,"sa":-2.519},{"lv":4.8,"paba":-5.211,"sa":-2},
{"lv":4.9,"paba":-5,"sa":-2.19},{"lv":4.9,"paba":-6.097,"sa":-3.714},{"lv":4.9,"paba":-6.518,"sa":-4.233},{"lv":4.9,"paba":-6.86,"sa":-4.68},{"lv":4.9,"paba":-7.055,"sa":-4.873},{"lv":4.9,"paba":-7.206,"sa":-4.931},{"lv":4.9,"paba":-7.344,"sa":-4.874},{"lv":4.9,"paba":-7.429,"sa":-4.762},{"lv":4.9,"paba":-7.459,"sa":-4.6},{"lv":4.9,"paba":-7.378,"sa":-4.31},{"lv":4.9,"paba":-7.181,"sa":-3.954},{"lv":4.9,"paba":-6.415,"sa":-3.096},{"lv":4.9,"paba":-5.818,"sa":-2.523},{"lv":4.9,"paba":-5.177,"sa":-2},
{"lv":5,"paba":-5,"sa":-2.176},{"lv":5,"paba":-6.097,"sa":-3.674},{"lv":5,"paba":-6.494,"sa":-4.176},{"lv":5,"paba":-6.856,"sa":-4.644},{"lv":5,"paba":-7.042,"sa":-4.812},{"lv":5,"paba":-7.194,"sa":-4.87},{"lv":5,"paba":-7.321,"sa":-4.812},{"lv":5,"paba":-7.397,"sa":-4.703},{"lv":5,"paba":-7.422,"sa":-4.561},{"lv":5,"paba":-7.338,"sa":-4.285},{"lv":5,"paba":-7.152,"sa":-3.95},{"lv":5,"paba":-6.367,"sa":-3.096},{"lv":5,"paba":-5.776,"sa":-2.527},{"lv":5,"paba":-5.143,"sa":-2},
{"lv":5.2,"paba":-5,"sa":-2.142},{"lv":5.2,"paba":-5.987,"sa":-3.473},{"lv":5.2,"paba":-6.747,"sa":-4.435},{"lv":5.2,"paba":-7,"sa":-4.678},{"lv":5.2,"paba":-7.143,"sa":-4.728},{"lv":5.2,"paba":-7.27,"sa":-4.661},{"lv":5.2,"paba":-7.312,"sa":-4.494},{"lv":5.2,"paba":-7.194,"sa":-4.184},{"lv":5.2,"paba":-6.916,"sa":-3.766},{"lv":5.2,"paba":-6.257,"sa":-3.013},{"lv":5.2,"paba":-5.65,"sa":-2.477},{"lv":5.2,"paba":-5.101,"sa":-2},
{"lv":5.4,"paba":-5,"sa":-2.117},{"lv":5.4,"paba":-5.987,"sa":-3.414},{"lv":5.4,"paba":-6.705,"sa":-4.285},{"lv":5.4,"paba":-6.916,"sa":-4.51},{"lv":5.4,"paba":-7.059,"sa":-4.577},{"lv":5.4,"paba":-7.194,"sa":-4.51},{"lv":5.4,"paba":-7.236,"sa":-4.368},{"lv":5.4,"paba":-7.127,"sa":-4.117},{"lv":5.4,"paba":-6.831,"sa":-3.682},{"lv":5.4,"paba":-6.19,"sa":-3.013},{"lv":5.4,"paba":-5.565,"sa":-2.427},{"lv":5.4,"paba":-5.076,"sa":-2},
{"lv":5.6,"paba":-5,"sa":-2.092},{"lv":5.6,"paba":-5.987,"sa":-3.347},{"lv":5.6,"paba":-6.62,"sa":-4.117},{"lv":5.6,"paba":-6.873,"sa":-4.343},{"lv":5.6,"paba":-7,"sa":-4.385},{"lv":5.6,"paba":-7.076,"sa":-4.326},{"lv":5.6,"paba":-7.067,"sa":-4.201},{"lv":5.6,"paba":-6.789,"sa":-3.741},{"lv":5.6,"paba":-6.114,"sa":-3.013},{"lv":5.6,"paba":-5.481,"sa":-2.385},{"lv":5.6,"paba":-5.051,"sa":-2},
{"lv":5.8,"paba":-5,"sa":-2.075},{"lv":5.8,"paba":-5.987,"sa":-3.28},{"lv":5.8,"paba":-6.536,"sa":-3.908},{"lv":5.8,"paba":-6.764,"sa":-4.059},{"lv":5.8,"paba":-6.84,"sa":-4.092},{"lv":5.8,"paba":-6.873,"sa":-4.034},{"lv":5.8,"paba":-6.705,"sa":-3.699},{"lv":5.8,"paba":-6.055,"sa":-3.013},{"lv":5.8,"paba":-5.396,"sa":-2.343},{"lv":5.8,"paba":-5.025,"sa":-2},
{"lv":5.9,"paba":-5,"sa":-2.059},{"lv":5.9,"paba":-5.987,"sa":-3.213},{"lv":5.9,"paba":-6.578,"sa":-3.782},{"lv":5.9,"paba":-6.392,"sa":-3.389},{"lv":5.9,"paba":-5.987,"sa":-3.013},{"lv":5.9,"paba":-5.354,"sa":-2.318},{"lv":5.9,"paba":-5,"sa":-2.025}
],
"ratios":[{"ratio":"1:1000","paba":-9,"sa":-6},{"ratio":"1:1000","paba":-5,"sa":-2},{"ratio":"1:10,000","paba":-9,"sa":-5},{"ratio":"1:10,000","paba":-6,"sa":-2},{"ratio":"1:100","paba":-8,"sa":-6},{"ratio":"1:100","paba":-5,"sa":-3}],
"leaders":[{"ratio":"1:1000","paba":-5,"sa":-2},{"ratio":"1:1000","paba":-4.88,"sa":-1.88},{"ratio":"1:10,000","paba":-6,"sa":-2},{"ratio":"1:10,000","paba":-5.9,"sa":-1.9},{"ratio":"1:100","paba":-5,"sa":-3},{"ratio":"1:100","paba":-4.88,"sa":-2.88}],
"ratioLabels":[{"t":"1:100","paba":-4.823,"sa":-2.837},{"t":"1:1000","paba":-4.823,"sa":-1.833},{"t":"1:10,000","paba":-5.835,"sa":-1.833}],
"levelLabels":[{"t":"0.0","paba":-6.097,"sa":-5.565},{"t":"1.0","paba":-6.097,"sa":-4.845},{"t":"2.0","paba":-6.097,"sa":-4.628},{"t":"3.0","paba":-6.097,"sa":-4.326},{"t":"4.0","paba":-6.089,"sa":-4.092},{"t":"5.0","paba":-6.089,"sa":-3.674},{"t":"0.0","paba":-7.844,"sa":-3.096},{"t":"1.0","paba":-7.608,"sa":-3.088},{"t":"2.0","paba":-7.405,"sa":-3.113},{"t":"3.0","paba":-7.143,"sa":-3.096},{"t":"4.0","paba":-6.831,"sa":-3.096},{"t":"5.0","paba":-6.367,"sa":-3.096}],
"page":[
{"b":"head","t":"STERLING EMERSON","line":0},
{"b":"num","t":"204","line":0},
{"b":"vol","t":"[VOL. 54","line":0},
{"b":"body","t":"of the double mutant, a molar ratio of about 1 PABA to 1000 SA is most favor-","line":2},
{"b":"body","t":"able.\u00a0\u00a0 An excess of either analog is inhibitory in a competitive manner.","line":3},
{"b":"head","t":"FIG. 10. CONTOUR GRAPH SHOWING VARIATION IN GROWTH RATE WITH CHANGING","line":34.38},
{"b":"head","t":"CONCENTRATIONS OF PABA AND SA OF THE DOUBLE MUTANT","line":35.1},
{"b":"head","t":"(SFO PAB) AT 35 C","line":35.77},
{"b":"legendIndent","t":"See legend to figure 6.\u00a0\u00a0 Based on 84 determinations at 52 combinations of SA and PABA","line":36.44},
{"b":"legend","t":"concentrations.","line":37.2},
{"b":"head","t":"DISCUSSION","line":38.5},
{"b":"italicIndent","t":"Sulfanilamide as a metabolite.","line":39.8},
{"b":"right","t":"Although growth responses by themselves do","line":39.8},
{"b":"body","t":"not prove that a substance found to be necessary for growth is actually used as","line":40.8},
{"b":"body","t":"a metabolite, the data just reported make it seem highly probable that sulfanila-","line":41.8},
{"b":"body","t":"mide is so utilized by strain E-15172 (sfo).\u00a0\u00a0 In the first place, of the substances","line":42.8},
{"b":"body","t":"tested only sulfonamides were capable of supporting growth of the sfo strain at","line":43.8},
{"b":"body","t":"35 C.\u00a0\u00a0 Secondly, this strain does not produce excessive amounts of PABA and","line":44.8},
{"b":"body","t":"thus require sulfonamides as antagonists because: (1) Inhibition of wild-type","line":45.8},
{"b":"italic","t":"Neurospora","line":46.8},
{"b":"right","t":"by PABA is not antagonized by SA (Emerson and Cushing, 1946).","line":46.8}
]},
"layer":[
{"layer":[
{"data":{"name":"contours"},"mark":{"type":"line","interpolate":"catmull-rom","clip":true,"color":"#111"},
"encoding":{"x":{"field":"paba","type":"quantitative","scale":{"domain":[-9,-5],"nice":false,"zero":false},
"axis":{"orient":"top","values":[-9,-8,-7,-6,-5],"grid":true,"gridColor":"#111","gridWidth":1.2,"domain":false,"ticks":false,"labelAngle":90,"labelAlign":"right","labelBaseline":"middle","labelPadding":7,"labelFont":"Liberation Serif","labelFontWeight":"bold","labelFontSize":14,"labelColor":"#111","labelExpr":"'10⁻' + ['⁰','¹','²','³','⁴','⁵','⁶','⁷','⁸','⁹'][-datum.value]","labelFlush":false,"labelOverlap":false,"title":"PABA\u00a0\u00a0CONCENTRATION","titleFont":"Liberation Sans","titleFontStyle":"italic","titleFontWeight":"normal","titleFontSize":15.5,"titleColor":"#111","titleAnchor":null,"titleAlign":"center","titleX":166,"titleY":-32}},
"y":{"field":"sa","type":"quantitative","scale":{"domain":[-6,-2],"reverse":true,"nice":false,"zero":false},
"axis":{"orient":"left","values":[-6,-5,-4,-3,-2],"grid":true,"gridColor":"#111","gridWidth":1.2,"domain":false,"ticks":false,"labelAngle":90,"labelAlign":"center","labelBaseline":"middle","labelPadding":11,"labelFont":"Liberation Serif","labelFontWeight":"bold","labelFontSize":14,"labelColor":"#111","labelExpr":"'10⁻' + ['⁰','¹','²','³','⁴','⁵','⁶','⁷','⁸','⁹'][-datum.value]","labelFlush":false,"labelOverlap":false,"title":"SA\u00a0\u00a0CONCENTRATION","titleFont":"Liberation Sans","titleFontStyle":"italic","titleFontWeight":"normal","titleFontSize":18,"titleColor":"#111","titleAngle":90,"titleAlign":"center","titleX":-45,"titleY":202}},
"detail":{"field":"lv"},"order":{"value":null},
"strokeWidth":{"condition":{"test":"datum.lv % 1 === 0","value":2},"value":0.85}}},
{"data":{"name":"ratios"},"mark":{"type":"line","clip":true,"color":"#111","strokeWidth":0.9,"strokeDash":[16,4,2,4]},"encoding":{"x":{"field":"paba","type":"quantitative"},"y":{"field":"sa","type":"quantitative"},"detail":{"field":"ratio"}}},
{"data":{"name":"leaders"},"mark":{"type":"line","color":"#111","strokeWidth":1.2},"encoding":{"x":{"field":"paba","type":"quantitative"},"y":{"field":"sa","type":"quantitative"},"detail":{"field":"ratio"}}},
{"data":{"name":"levelLabels"},"mark":{"type":"text","font":"Liberation Serif","fontWeight":"bold","fontSize":15,"angle":58,"stroke":"white","strokeWidth":6,"strokeJoin":"round"},"encoding":{"x":{"field":"paba","type":"quantitative"},"y":{"field":"sa","type":"quantitative"},"text":{"field":"t"}}},
{"data":{"name":"levelLabels"},"mark":{"type":"text","font":"Liberation Serif","fontWeight":"bold","fontSize":15,"angle":58,"color":"#111"},"encoding":{"x":{"field":"paba","type":"quantitative"},"y":{"field":"sa","type":"quantitative"},"text":{"field":"t"}}},
{"data":{"name":"ratioLabels"},"mark":{"type":"text","font":"Liberation Serif","fontWeight":"bold","fontSize":15,"angle":48,"color":"#111"},"encoding":{"x":{"field":"paba","type":"quantitative"},"y":{"field":"sa","type":"quantitative"},"text":{"field":"t"}}}
]},
{"data":{"name":"page"},"encoding":{"y":{"field":"line","type":"quantitative","scale":{"domain":[0,60],"range":[-141,1023]},"axis":null},"text":{"field":"t"}},
"layer":[
{"transform":[{"filter":"datum.b==='body'"}],"mark":{"type":"text","align":"left","font":"DejaVu Serif","fontSize":14.15,"color":"#111"},"encoding":{"x":{"datum":-9.388,"type":"quantitative"}}},
{"transform":[{"filter":"datum.b==='right'"}],"mark":{"type":"text","align":"right","font":"DejaVu Serif","fontSize":14.15,"color":"#111"},"encoding":{"x":{"datum":-4.553,"type":"quantitative"}}},
{"transform":[{"filter":"datum.b==='italic'"}],"mark":{"type":"text","align":"left","font":"DejaVu Serif","fontStyle":"italic","fontSize":14.15,"color":"#111"},"encoding":{"x":{"datum":-9.388,"type":"quantitative"}}},
{"transform":[{"filter":"datum.b==='italicIndent'"}],"mark":{"type":"text","align":"left","font":"DejaVu Serif","fontStyle":"italic","fontSize":14.15,"color":"#111"},"encoding":{"x":{"datum":-9.236,"type":"quantitative"}}},
{"transform":[{"filter":"datum.b==='head'"}],"mark":{"type":"text","align":"center","font":"Liberation Serif","fontSize":12.7,"fontWeight":"bold","color":"#111"},"encoding":{"x":{"datum":-6.975,"type":"quantitative"}}},
{"transform":[{"filter":"datum.b==='legend'"}],"mark":{"type":"text","align":"left","font":"DejaVu Serif","fontSize":12.25,"color":"#111"},"encoding":{"x":{"datum":-9.388,"type":"quantitative"}}},
{"transform":[{"filter":"datum.b==='legendIndent'"}],"mark":{"type":"text","align":"left","font":"DejaVu Serif","fontSize":12.25,"color":"#111"},"encoding":{"x":{"datum":-9.236,"type":"quantitative"}}},
{"transform":[{"filter":"datum.b==='num'"}],"mark":{"type":"text","align":"left","font":"Liberation Serif","fontSize":15,"fontWeight":"bold","color":"#111"},"encoding":{"x":{"datum":-9.388,"type":"quantitative"}}},
{"transform":[{"filter":"datum.b==='vol'"}],"mark":{"type":"text","align":"right","font":"Liberation Serif","fontSize":15,"fontWeight":"bold","color":"#111"},"encoding":{"x":{"datum":-4.553,"type":"quantitative"}}}
]}
],
"resolve":{"scale":{"y":"independent"}}}
